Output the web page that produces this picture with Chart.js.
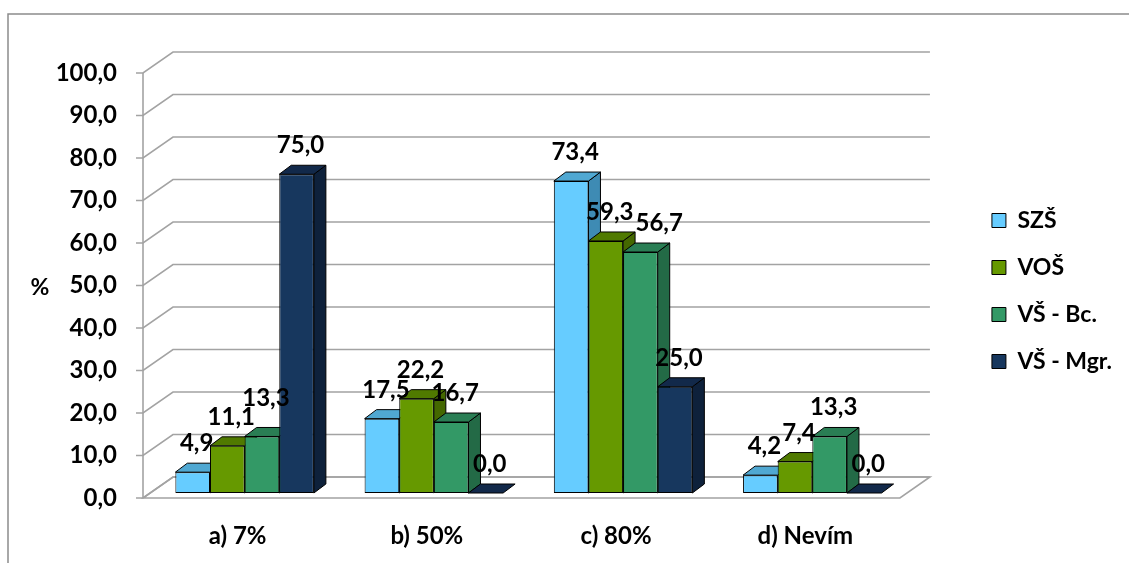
<!DOCTYPE html>
<html>
<head>
<meta charset="utf-8">
<script src="https://cdn.jsdelivr.net/npm/chart.js@4.4.1/dist/chart.umd.min.js"></script>
<style>
html, body { margin: 0; padding: 0; background: #fff; }
</style>
</head>
<body>
<canvas id="myChart" width="1129" height="563"></canvas>
<script>
// data
var categories = ['a) 7%', 'b) 50%', 'c) 80%', 'd) Nevím'];
var seriesNames = ['SZŠ', 'VOŠ', 'VŠ - Bc.', 'VŠ - Mgr.'];
var szsValues = [4.9, 17.5, 73.4, 4.2];
var vosValues = [11.1, 22.2, 59.3, 7.4];
var bcValues = [13.3, 16.7, 56.7, 13.3];
var mgrValues = [75.0, 0.0, 25.0, 0.0];
var yAxisTitle = '%';

var frontColors = ['#66ccff', '#669900', '#339966', '#17375e'];
var topColors = ['#50a8d2', '#507a00', '#2a7e54', '#12294a'];
var sideColors = ['#3e8bb4', '#446800', '#236a46', '#0e213b'];

var FONT = 'Lato';
var gridColor = '#a3a3a3';

function fmt(v) {
  return Number(v).toFixed(1).replace('.', ',');
}

function poly(ctx, pts, fill, stroke) {
  ctx.beginPath();
  ctx.moveTo(pts[0][0], pts[0][1]);
  for (var i = 1; i < pts.length; i++) ctx.lineTo(pts[i][0], pts[i][1]);
  ctx.closePath();
  if (fill) { ctx.fillStyle = fill; ctx.fill(); }
  if (stroke) { ctx.strokeStyle = stroke; ctx.stroke(); }
}

// fake 3d: walls, floor, bar tops and sides, value labels
var bar3d = {
  id: 'bar3d',
  beforeDatasetsDraw: function(chart) {
    var ctx = chart.ctx,
        area = chart.chartArea,
        y = chart.scales.y;
    var fx = area.left - 7, lift = 5, wdx = 30, wdy = -21;
    ctx.save();
    ctx.lineWidth = 1.6;
    ctx.strokeStyle = gridColor;

    // floor
    var y0 = y.getPixelForValue(0);
    poly(ctx, [[fx, y0 + lift], [area.right - 7, y0 + lift],
               [area.right - 7 + wdx, y0 + lift + wdy], [fx + wdx, y0 + lift + wdy]], null, gridColor);

    // back wall grid + left wall diagonals + tick marks
    for (var v = 0; v <= 100; v += 10) {
      var py = y.getPixelForValue(v) + lift;
      ctx.beginPath();
      ctx.moveTo(fx - 7, py);
      ctx.lineTo(fx, py);
      ctx.lineTo(fx + wdx, py + wdy);
      ctx.lineTo(area.right - 7 + wdx, py + wdy);
      ctx.stroke();
    }
    ctx.beginPath();
    ctx.moveTo(fx, y.getPixelForValue(100) + lift);
    ctx.lineTo(fx, y0 + lift);
    ctx.stroke();

    // bar sides and tops (fronts are drawn by chart.js)
    ctx.lineWidth = 1;
    chart.data.datasets.forEach(function(ds, di) {
      var meta = chart.getDatasetMeta(di);
      meta.data.forEach(function(el) {
        var p = el.getProps(['x', 'y', 'base', 'width'], true);
        var l = p.x - p.width / 2, r = p.x + p.width / 2, dx = 12, dy = -9;
        if (p.base - p.y > 0.5) {
          poly(ctx, [[r, p.y], [r + dx, p.y + dy], [r + dx, p.base + dy], [r, p.base]], sideColors[di], '#000');
        }
        poly(ctx, [[l, p.y], [r, p.y], [r + dx, p.y + dy], [l + dx, p.y + dy]], topColors[di], '#000');
      });
    });
    ctx.restore();
  },
  afterDatasetsDraw: function(chart) {
    var ctx = chart.ctx;
    var nDs = chart.data.datasets.length;
    ctx.save();
    ctx.font = 'bold 24px ' + FONT;
    ctx.fillStyle = '#000';
    ctx.textAlign = 'center';
    ctx.textBaseline = 'alphabetic';
    chart.data.labels.forEach(function(lbl, i) {
      var prev = null;
      for (var di = 0; di < nDs; di++) {
        var ds = chart.data.datasets[di];
        var p = chart.getDatasetMeta(di).data[i].getProps(['x', 'y', 'width'], true);
        var text = fmt(ds.data[i]);
        var w = ctx.measureText(text).width, h = 17;
        var cx = p.x + 4, base = p.y - 21;
        // nudge a label that would collide with the one before it
        if (prev && cx - w / 2 < prev.r && base > prev.top && base - h < prev.base) {
          var next = di + 1 < nDs ? chart.getDatasetMeta(di + 1).data[i].getProps(['x', 'y', 'width'], true) : null;
          var shifted = prev.r + 2 + w / 2;
          if (!next || next.y > base + 2) {
            cx = shifted;
          } else {
            base = prev.top - 2;
          }
        }
        ctx.fillText(text, cx, base);
        prev = { r: cx + w / 2, top: base - h, base: base };
      }
    });
    ctx.restore();
  },
  afterDraw: function(chart) {
    var ctx = chart.ctx;
    ctx.save();
    // outer frame (only top and left edges are visible)
    ctx.strokeStyle = '#8c8c8c';
    ctx.lineWidth = 1.5;
    ctx.beginPath();
    ctx.moveTo(8, 563);
    ctx.lineTo(8, 14);
    ctx.lineTo(1129, 14);
    ctx.stroke();
    // axis title, not rotated
    ctx.font = 'bold 23px ' + FONT;
    ctx.fillStyle = '#000';
    ctx.textAlign = 'center';
    ctx.textBaseline = 'middle';
    ctx.fillText(yAxisTitle, 40, 288);
    ctx.restore();
  }
};

var datasets = [szsValues, vosValues, bcValues, mgrValues].map(function(vals, i) {
  return {
    label: seriesNames[i],
    data: vals,
    backgroundColor: frontColors[i],
    borderColor: '#000',
    borderWidth: 1,
    borderSkipped: false,
    categoryPercentage: 0.732,
    barPercentage: 1.0
  };
});

var config = {
  type: 'bar',
  data: { labels: categories, datasets: datasets },
  options: {
    responsive: false,
    animation: false,
    events: [],
    layout: { padding: { top: 20, bottom: 1, left: 0, right: 7 } },
    plugins: {
      tooltip: { enabled: false },
      legend: {
        position: 'right',
        align: 'center',
        labels: {
          boxWidth: 14,
          boxHeight: 14,
          padding: 24,
          color: '#000',
          font: { family: FONT, size: 23, weight: 'bold' }
        }
      }
    },
    scales: {
      x: {
        grid: { display: false, drawTicks: false },
        border: { display: false },
        ticks: {
          color: '#000',
          padding: 29,
          labelOffset: -7,
          autoSkip: false,
          maxRotation: 0,
          minRotation: 0,
          font: { family: FONT, size: 24, weight: 'bold' }
        },
        afterFit: function(scale) { scale.height = 69; }
      },
      topGap: {
        type: 'category',
        position: 'top',
        grid: { display: false, drawTicks: false },
        border: { display: false },
        ticks: { display: false },
        afterFit: function(scale) { scale.height = 48; }
      },
      y: {
        min: 0,
        max: 100,
        grid: { display: false, drawTicks: false },
        border: { display: false },
        ticks: {
          stepSize: 10,
          color: '#000',
          padding: 33,
          labelOffset: 5,
          font: { family: FONT, size: 24, weight: 'bold' },
          callback: function(v) { return fmt(v); }
        },
        afterFit: function(scale) { scale.width = 150; }
      },
      gap: {
        position: 'right',
        grid: { display: false, drawTicks: false },
        border: { display: false },
        ticks: { display: false },
        afterFit: function(scale) { scale.width = 61; }
      }
    }
  },
  plugins: [bar3d]
};

var ctx = document.getElementById('myChart').getContext('2d');
var myChart = new Chart(ctx, config);
</script>
</body>
</html>
